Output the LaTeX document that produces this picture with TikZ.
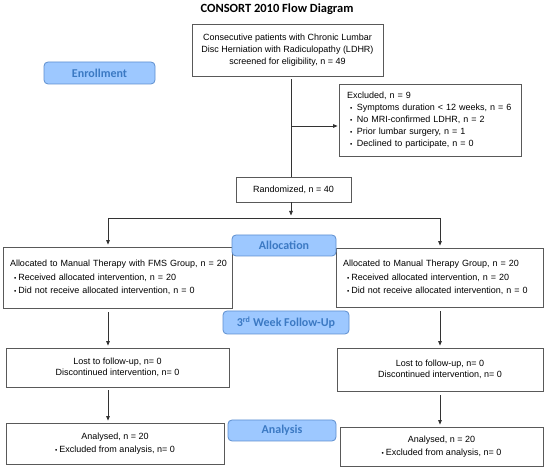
\documentclass[tikz,border=0pt]{standalone}
\usepackage{fontspec}
\setmainfont{Liberation Sans}
\newfontfamily\calibfont{Carlito}
\usepackage{xcolor}
\usepackage{tikz}
\usetikzlibrary{arrows.meta}
\definecolor{stagefill}{HTML}{9DC8FF}
\definecolor{stageline}{HTML}{5E8FCF}
\definecolor{stagetext}{HTML}{3B79C3}
\newcommand{\bul}{{\fontsize{6.5}{6.5}\selectfont\textbullet}\hspace{2pt}}

\begin{document}
\begin{tikzpicture}[x=1pt, y=-1pt, >={Triangle[length=4.5pt,width=3.6pt]},
  font=\fontsize{9}{12}\selectfont,
  box/.style={draw=black!65, line width=0.8pt, inner sep=0pt, align=center},
  listbox/.style={box, align=left, inner xsep=7pt},
  stage/.style={draw=stageline, fill=stagefill, line width=0.8pt, rounded corners=4pt, inner sep=0pt,
    text=stagetext, font=\calibfont\bfseries\fontsize{12}{12}\selectfont},
  link/.style={black!80, line width=0.8pt}]
\useasboundingbox (0,0) rectangle (550,473);

\node[font=\calibfont\bfseries\fontsize{12.5}{14}\selectfont] (title) at (277,9) {CONSORT 2010 Flow Diagram};

\node[box, minimum width=191pt, minimum height=52pt] (screen) at (287.5,50)
  {Consecutive patients with Chronic Lumbar\\Disc Herniation with Radiculopathy (LDHR)\\screened for eligibility, n = 49};
\node[listbox, inner xsep=8pt, text width=166pt, minimum height=72pt] (excl) at (430,120)
  {Excluded, n = 9\\
   \hspace*{3pt}\bul\hspace{2.5pt}Symptoms duration < 12 weeks, n = 6\\
   \hspace*{3pt}\bul\hspace{2.5pt}No MRI-confirmed LDHR, n = 2\\
   \hspace*{3pt}\bul\hspace{2.5pt}Prior lumbar surgery, n = 1\\
   \hspace*{3pt}\bul\hspace{2.5pt}Declined to participate, n = 0};
\node[box, minimum width=115pt, minimum height=25pt] (rand) at (293.5,189.5) {Randomized, n = 40};

\node[listbox, text width=215pt, minimum height=61pt] (allocL) at (117.5,277.5)
  {\mbox{Allocated to Manual Therapy with FMS Group, n = 20}\\[1.5pt]
   \hspace*{4pt}\bul Received allocated intervention, n = 20\\[1.5pt]
   \hspace*{4pt}\bul Did not receive allocated intervention, n = 0};
\node[listbox, text width=193pt, minimum height=59pt] (allocR) at (439.5,277.5)
  {Allocated to Manual Therapy Group, n = 20\\[1.5pt]
   \hspace*{4pt}\bul Received allocated intervention, n = 20\\[1.5pt]
   \hspace*{4pt}\bul Did not receive allocated intervention, n = 0};

\node[box, minimum width=223pt, minimum height=39pt, font=\fontsize{9}{11}\selectfont] (lostL) at (117.5,367.5)
  {Lost to follow-up, n= 0\\Discontinued intervention, n= 0};
\node[box, minimum width=206pt, minimum height=43pt, font=\fontsize{9}{11}\selectfont] (lostR) at (440,369.5)
  {Lost to follow-up, n= 0\\Discontinued intervention, n= 0};

\node[box, minimum width=218pt, minimum height=41pt] (anaL) at (115,443.5)
  {Analysed, n = 20\\[1pt]\bul Excluded from analysis, n= 0};
\node[box, minimum width=203pt, minimum height=39pt] (anaR) at (441.5,446.5)
  {Analysed, n = 20\\[1pt]\bul Excluded from analysis, n= 0};

\node[stage, minimum width=111pt, minimum height=22pt] (enroll) at (99.5,73) {Enrollment};
\node[stage, minimum width=104pt, minimum height=21pt] (alloc) at (284,245.5) {Allocation};
\node[stage, minimum width=126pt, minimum height=23pt] (week) at (286,322.5) {3\textsuperscript{rd} Week Follow-Up};
\node[stage, minimum width=108pt, minimum height=21pt] (analysis) at (282,430.5) {Analysis};

\coordinate (split) at (291,218);
\coordinate (lsplit) at (108,218);
\coordinate (rsplit) at (440,218);

\draw[link, shorten <=3pt] (split |- screen.south) -- (split |- rand.north);
\draw[link, <-, shorten <=1pt] ([yshift=-6pt]excl.west) -- ++(-48,0);
\draw[link, ->, shorten >=2.5pt] (split |- rand.south) -- (split);
\draw[link] (lsplit) -- (rsplit);
\draw[link, ->, shorten >=2pt] (lsplit) -- (lsplit |- allocL.north);
\draw[link, ->, shorten >=2pt] (rsplit) -- (rsplit |- allocR.north);
\draw[link, ->, shorten <=4pt, shorten >=2pt] (lsplit |- allocL.south) -- (lsplit |- lostL.north);
\draw[link, ->, shorten <=3pt, shorten >=2pt] (lsplit |- lostL.south) -- (lsplit |- anaL.north);
\draw[link, ->, shorten <=4pt, shorten >=2pt] (rsplit |- allocR.south) -- (rsplit |- lostR.north);
\draw[link, ->, shorten <=4pt, shorten >=2pt] (rsplit |- lostR.south) -- (rsplit |- anaR.north);
\end{tikzpicture}
\end{document}
